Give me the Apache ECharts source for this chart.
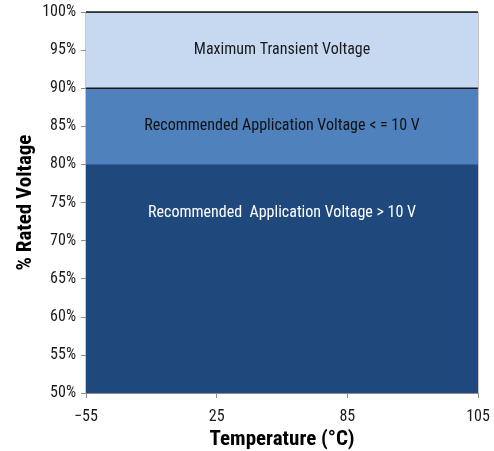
<!DOCTYPE html>
<html><head><meta charset="utf-8">
<script src="https://cdn.jsdelivr.net/npm/echarts@6/dist/echarts.min.js"></script>
<style>html,body{margin:0;padding:0;background:#fff}#c{width:494px;height:451px}</style>
</head><body><div id="c"></div>
<script>
var temps = ['\u221255', '25', '85', '105'];
var transientMax = [100, 100, 100, 100];
var recBelow10 = [90, 90, 90, 90];
var recAbove10 = [80, 80, 80, 80];
var yTicks = [50, 55, 60, 65, 70, 75, 80, 85, 90, 95, 100];
var zoneLabels = ['Maximum Transient Voltage', 'Recommended Application Voltage < = 10 V', 'Recommended  Application Voltage > 10 V'];
var zoneLabelValues = [95, 85, 73.6];
var zoneLabelColors = ['#1a1a1a', '#111111', '#ffffff'];

var FONT = '"Roboto Condensed", "Roboto", sans-serif';
var chart = echarts.init(document.getElementById('c'));
chart.setOption({
  animation: false,
  grid: { left: 86, right: 16, top: 12, bottom: 58, show: true, borderColor: '#8c8c8c', borderWidth: 1, outerBoundsMode: 'none', containLabel: false },
  xAxis: {
    type: 'category', data: temps, boundaryGap: false,
    name: 'Temperature (\u00b0C)', nameLocation: 'middle', nameGap: 36, nameMoveOverlap: false,
    nameTextStyle: { fontFamily: FONT, fontSize: 21, fontWeight: 'bold', color: '#000' },
    axisLine: { lineStyle: { color: '#8c8c8c' } },
    axisTick: { alignWithLabel: true, length: 5, lineStyle: { color: '#8c8c8c' } },
    axisLabel: { fontFamily: FONT, fontSize: 16, color: '#1a1a1a', margin: 16 },
    splitLine: { show: false }
  },
  yAxis: {
    type: 'value', min: 50, max: 100, interval: 5,
    name: '% Rated Voltage', nameLocation: 'middle', nameGap: 50, nameMoveOverlap: false,
    nameTextStyle: { fontFamily: FONT, fontSize: 21, fontWeight: 'bold', color: '#000' },
    axisLine: { show: true, lineStyle: { color: '#8c8c8c' } },
    axisTick: { show: true, length: 5, lineStyle: { color: '#8c8c8c' } },
    axisLabel: { fontFamily: FONT, fontSize: 16, color: '#1a1a1a', margin: 10, formatter: function (v) { return yTicks.indexOf(v) >= 0 ? v + '%' : ''; } },
    splitLine: { show: false }
  },
  series: [
    { type: 'line', data: transientMax, symbol: 'none', lineStyle: { color: '#000', width: 1.5 }, areaStyle: { color: '#C6D9F1', opacity: 1 } },
    { type: 'line', data: recBelow10, symbol: 'none', lineStyle: { color: '#1a1a1a', width: 1.5 }, areaStyle: { color: '#4F81BD', opacity: 1 } },
    { type: 'line', data: recAbove10, symbol: 'none', lineStyle: { color: '#3a6496', width: 1 }, areaStyle: { color: '#1F497D', opacity: 1 } }
  ]
});
var x0 = chart.convertToPixel({ xAxisIndex: 0 }, temps[0]);
var x1 = chart.convertToPixel({ xAxisIndex: 0 }, temps[temps.length - 1]);
var cx = (x0 + x1) / 2;
chart.setOption({
  graphic: zoneLabels.map(function (t, i) {
    return {
      type: 'text', x: cx, y: chart.convertToPixel({ yAxisIndex: 0 }, zoneLabelValues[i]), z: 100,
      style: { text: t, fill: zoneLabelColors[i], font: '16px ' + FONT, textAlign: 'center', textVerticalAlign: 'middle' }
    };
  })
});
</script></body></html>
